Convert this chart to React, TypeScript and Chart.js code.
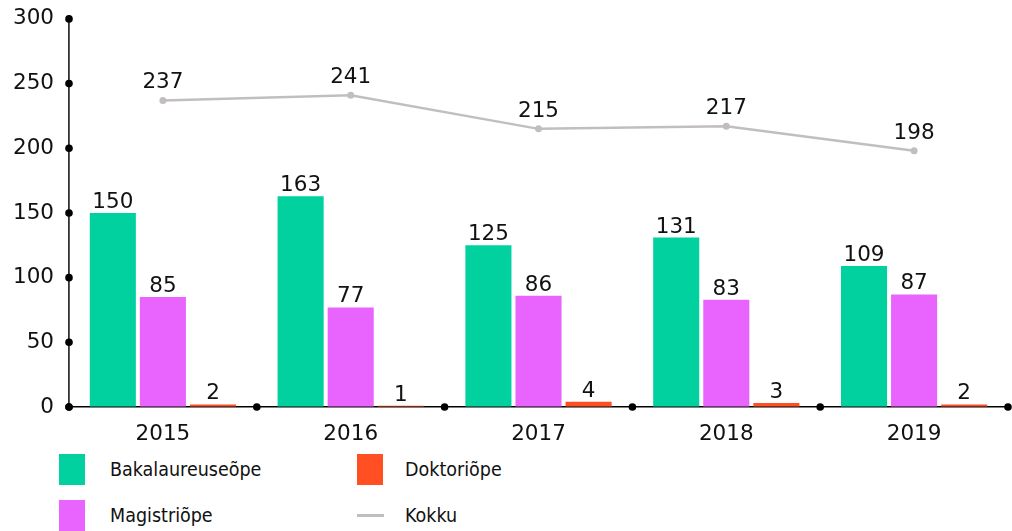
import React, { useEffect, useRef } from "react";
import { Chart, registerables } from "chart.js";

Chart.register(...registerables);

const years = ["2015", "2016", "2017", "2018", "2019"];
const bakalaureus = [150, 163, 125, 131, 109];
const magister = [85, 77, 86, 83, 87];
const doktor = [2, 1, 4, 3, 2];
const kokku = [237, 241, 215, 217, 198];
const yTicks = [0, 50, 100, 150, 200, 250, 300];

const GREEN = "#00D19F";
const MAGENTA = "#E963FF";
const ORANGE = "#FF4F23";
const GREY = "#C3BEBE";
const NUM_FONT = "'DejaVu Sans', 'Liberation Sans', sans-serif";
const LEGEND_FONT = "'DejaVu Sans Condensed', 'Liberation Sans', sans-serif";
const NUM_SIZE = 21.5;

const dotsPlugin = {
  id: "axisDots",
  afterDraw(chart: any) {
    const { ctx, chartArea, scales } = chart;
    const y = scales.y;
    const x = scales.x;
    ctx.save();
    ctx.fillStyle = "#000";
    y.ticks.forEach((t: any) => {
      const py = y.getPixelForValue(t.value);
      ctx.beginPath();
      ctx.arc(chartArea.left, py, 3.8, 0, Math.PI * 2);
      ctx.fill();
    });
    const n = x.ticks.length;
    for (let i = 0; i <= n; i++) {
      const px = x.left + (i * x.width) / n;
      ctx.beginPath();
      ctx.arc(px, chartArea.bottom, 3.8, 0, Math.PI * 2);
      ctx.fill();
    }
    ctx.restore();
  },
};

const labelsPlugin = {
  id: "valueLabels",
  afterDatasetsDraw(chart: any) {
    const { ctx } = chart;
    ctx.save();
    ctx.font = `${NUM_SIZE}px ${NUM_FONT}`;
    ctx.fillStyle = "#111";
    ctx.textAlign = "center";
    ctx.textBaseline = "alphabetic";
    chart.data.datasets.forEach((ds: any, di: number) => {
      const meta = chart.getDatasetMeta(di);
      const isLine = meta.type === "line";
      meta.data.forEach((el: any, i: number) => {
        const off = isLine ? 12 : 5;
        ctx.fillText(String(ds.data[i]), el.x, el.y - off);
      });
    });
    ctx.restore();
  },
};

export default function App() {
  const ref = useRef<HTMLCanvasElement | null>(null);

  useEffect(() => {
    if (!ref.current) return;
    const chart = new Chart(ref.current, {
      type: "bar",
      data: {
        labels: years,
        datasets: [
          {
            type: "line",
            label: "Kokku",
            data: kokku,
            borderColor: GREY,
            backgroundColor: GREY,
            borderWidth: 2.5,
            pointRadius: 3.5,
            pointBackgroundColor: GREY,
            pointBorderWidth: 0,
            tension: 0,
            order: 0,
          } as any,
          {
            label: "Bakalaureuseõpe",
            data: bakalaureus,
            backgroundColor: GREEN,
            categoryPercentage: 0.8,
            barPercentage: 0.92,
            order: 1,
          },
          {
            label: "Magistriõpe",
            data: magister,
            backgroundColor: MAGENTA,
            categoryPercentage: 0.8,
            barPercentage: 0.92,
            order: 1,
          },
          {
            label: "Doktoriõpe",
            data: doktor,
            backgroundColor: ORANGE,
            categoryPercentage: 0.8,
            barPercentage: 0.92,
            order: 1,
          },
        ],
      },
      options: {
        animation: false,
        responsive: false,
        maintainAspectRatio: false,
        layout: { padding: { top: 0, right: 4, left: 0, bottom: 0 } },
        plugins: { legend: { display: false }, tooltip: { enabled: false } },
        scales: {
          x: {
            grid: { drawOnChartArea: false, drawTicks: false },
            border: { display: true, color: "#000", width: 1.5 },
            ticks: {
              color: "#111",
              font: { family: NUM_FONT, size: NUM_SIZE },
              padding: 15,
            },
            afterFit: (s: any) => {
              s.height = 43;
            },
          },
          y: {
            min: 0,
            max: 300,
            afterBuildTicks: (s: any) => {
              s.ticks = yTicks.map((v) => ({ value: v }));
            },
            grid: { drawOnChartArea: false, drawTicks: false },
            border: { display: true, color: "#333", width: 1.8 },
            ticks: {
              color: "#111",
              font: { family: NUM_FONT, size: NUM_SIZE },
              padding: 15,
            },
            afterFit: (s: any) => {
              s.width = 69;
            },
          },
        },
      },
      plugins: [dotsPlugin, labelsPlugin],
    });
    return () => chart.destroy();
  }, []);

  const boxStyle = (left: number, top: number, color: string): React.CSSProperties => ({
    position: "absolute",
    left,
    top,
    width: 26,
    height: 31,
    background: color,
  });
  const textStyle = (left: number, top: number): React.CSSProperties => ({
    position: "absolute",
    left,
    top,
    height: 30,
    lineHeight: "30px",
    fontFamily: LEGEND_FONT,
    fontSize: 19.5,
    color: "#111",
    whiteSpace: "nowrap",
  });

  return (
    <div style={{ position: "fixed", left: 0, top: 0, width: 1012, height: 531, overflow: "hidden", background: "#fff" }}>
      <canvas ref={ref} width={1012} height={459} style={{ position: "absolute", left: 0, top: -9, width: 1012, height: 459 }} />
      <div style={boxStyle(59, 454, GREEN)} />
      <div style={textStyle(110, 455)}>Bakalaureuseõpe</div>
      <div style={boxStyle(59, 500, MAGENTA)} />
      <div style={textStyle(110, 501)}>Magistriõpe</div>
      <div style={boxStyle(357, 454, ORANGE)} />
      <div style={textStyle(405, 455)}>Doktoriõpe</div>
      <div style={{ position: "absolute", left: 357, top: 514, width: 27, height: 3, background: GREY }} />
      <div style={textStyle(405, 501)}>Kokku</div>
    </div>
  );
}
